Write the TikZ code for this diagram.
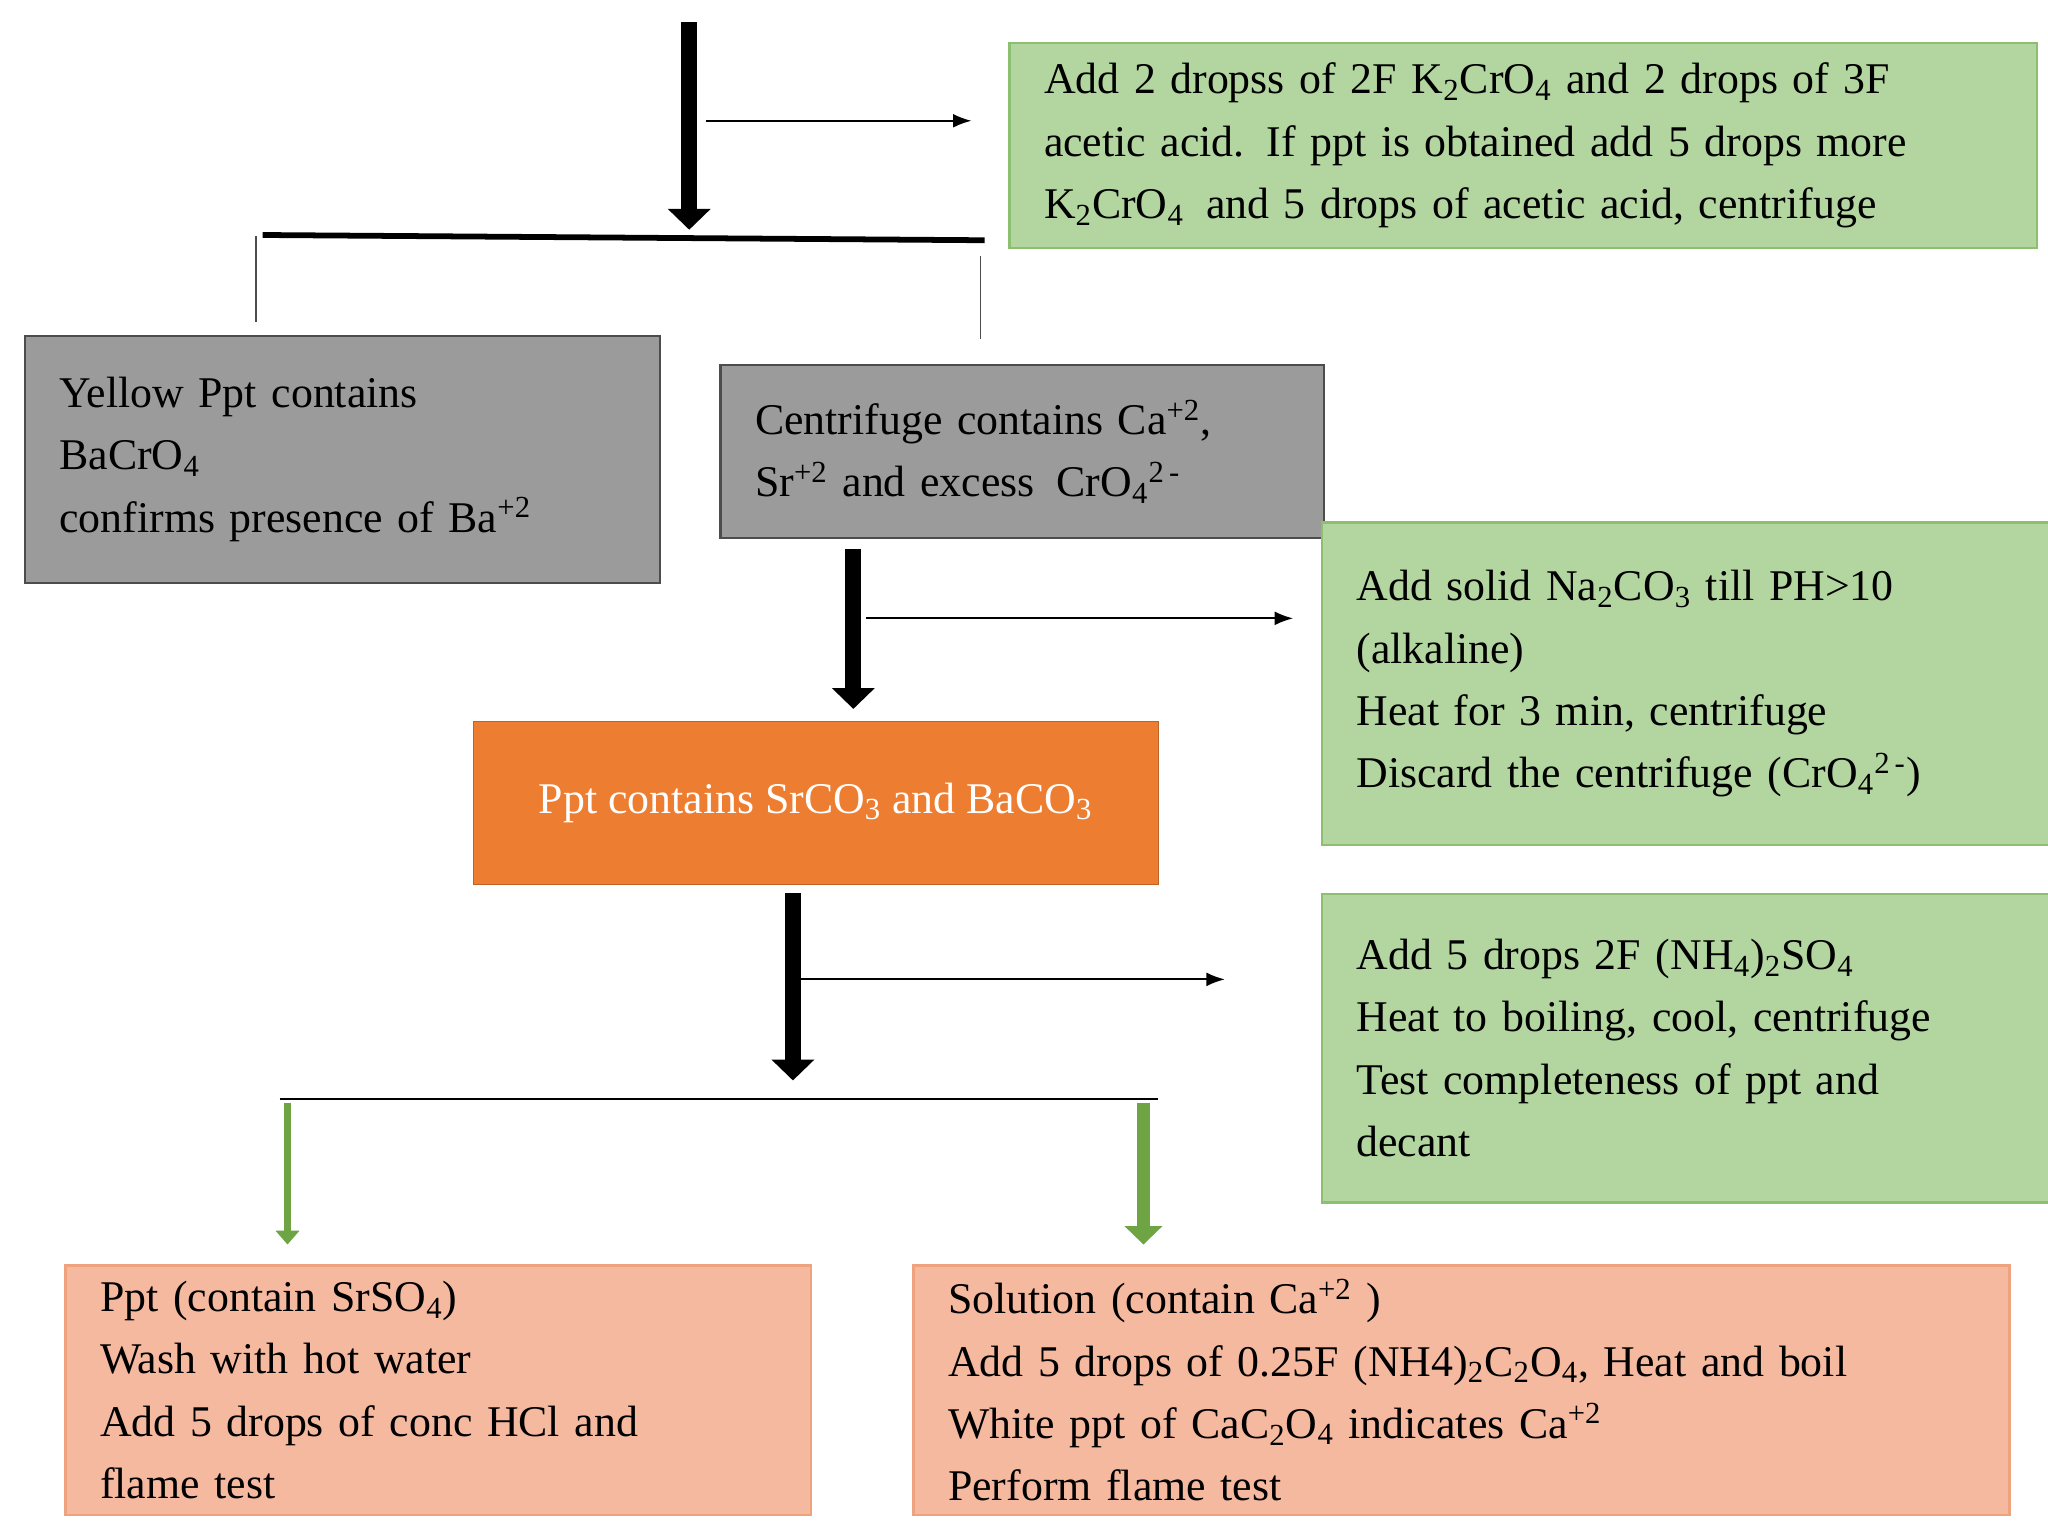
\documentclass[tikz,border=0pt]{standalone}
\usepackage{fontspec}
\setmainfont{Liberation Serif}
\usetikzlibrary{arrows.meta}
\definecolor{boxgreen}{HTML}{B3D5A0}
\definecolor{edgegreen}{HTML}{8CC070}
\definecolor{boxgray}{HTML}{9B9B9B}
\definecolor{boxorange}{HTML}{ED7D31}
\definecolor{boxsalmon}{HTML}{F5B9A0}
\definecolor{edgesalmon}{HTML}{EFA27E}
\definecolor{arrowgreen}{HTML}{6FA444}
\tikzset{
  box/.style={draw, rectangle, anchor=north west, align=left, inner xsep=15pt, inner ysep=4pt,
    font=\fontsize{19}{27}\selectfont},
  gbox/.style={box, fill=boxgreen, draw=edgegreen, line width=1pt},
  ybox/.style={box, fill=boxgray, draw=black!70, line width=1pt},
  sbox/.style={box, fill=boxsalmon, draw=edgesalmon, line width=1pt},
  bigarrow/.style={line width=7pt, -{Triangle[width=18pt,length=9pt]}},
  thinarrow/.style={line width=0.8pt, -{Latex[length=8pt,width=6pt]}},
}
\begin{document}
\begin{tikzpicture}[x=0.02cm,y=-0.02cm]
\useasboundingbox (0,0) rectangle (1560,1170);
% boxes
\node[gbox, minimum width=780\pgflinewidth, text width=730*0.02cm, minimum width=780*0.02cm, minimum height=156*0.02cm] (add1) at (768,32)
  {Add 2 dropss of 2F K\textsubscript{2}CrO\textsubscript{4} and 2 drops of 3F\\acetic acid. If ppt is obtained add 5 drops more\\ K\textsubscript{2}CrO\textsubscript{4}\, and 5 drops of acetic acid, centrifuge};
\node[ybox, text width=431*0.02cm, minimum width=461*0.02cm, minimum height=188*0.02cm] (yellow) at (18,255)
  {Yellow Ppt contains\\BaCrO\textsubscript{4}\\confirms presence of Ba\textsuperscript{+2}};
\node[ybox, text width=407*0.02cm, minimum width=437*0.02cm, minimum height=132*0.02cm] (cent) at (548,277)
  {Centrifuge contains Ca\textsuperscript{+2},\\Sr\textsuperscript{+2} and excess\, CrO\textsubscript{4}\textsuperscript{2\,-}};
\node[gbox, text width=512*0.02cm, minimum width=542*0.02cm, minimum height=246*0.02cm] (add2) at (1006,397)
  {Add solid Na\textsubscript{2}CO\textsubscript{3} till PH>10\\(alkaline)\\Heat for 3 min, centrifuge\\Discard the centrifuge (CrO\textsubscript{4}\textsuperscript{2\,-})};
\node[box, fill=boxorange, draw=boxorange!80!black, text=white, align=center, minimum width=522*0.02cm, minimum height=124*0.02cm] (ppt) at (360,549)
  {Ppt contains SrCO\textsubscript{3} and BaCO\textsubscript{3}};
\node[gbox, text width=512*0.02cm, minimum width=542*0.02cm, minimum height=235*0.02cm] (add3) at (1006,680)
  {Add 5 drops 2F (NH\textsubscript{4})\textsubscript{2}SO\textsubscript{4}\\Heat to boiling, cool, centrifuge\\Test completeness of ppt and\\decant};
\node[sbox, text width=515*0.02cm, minimum width=545*0.02cm, minimum height=190*0.02cm] (sr) at (49,963)
  {Ppt (contain SrSO\textsubscript{4})\\Wash with hot water\\Add 5 drops of conc HCl and\\flame test};
\node[sbox, text width=782*0.02cm, minimum width=812*0.02cm, minimum height=190*0.02cm] (ca) at (695,963)
  {Solution (contain Ca\textsuperscript{+2} )\\Add 5 drops of 0.25F (NH4)\textsubscript{2}C\textsubscript{2}O\textsubscript{4}, Heat and boil\\White ppt of CaC\textsubscript{2}O\textsubscript{4} indicates Ca\textsuperscript{+2}\\Perform flame test};
% connector points
\coordinate (top) at (525,17);
\coordinate (split1) at (525,175);
\coordinate (s1a) at (538,92);
\coordinate (s1b) at (740,92);
\coordinate (b1l) at (200,179);
\coordinate (b1r) at (750,183);
\coordinate (c1) at (650,418);
\coordinate (c2) at (650,540);
\coordinate (s2a) at (660,471);
\coordinate (s2b) at (985,471);
\coordinate (p1) at (604,680);
\coordinate (p2) at (604,823);
\coordinate (s3a) at (610,746);
\coordinate (s3b) at (933,746);
\coordinate (b2l) at (213,837);
\coordinate (b2r) at (882,837);
% arrows
\draw[bigarrow] (top) -- (split1);
\draw[thinarrow] (s1a) -- (s1b);
\draw[line width=2.5pt] (b1l) -- (b1r);
\draw[line width=0.5pt, black!70] (195,180) -- (195,245);
\draw[line width=0.5pt, black!70] (747,195) -- (747,258);
\draw[bigarrow] (c1) -- (c2);
\draw[thinarrow] (s2a) -- (s2b);
\draw[bigarrow] (p1) -- (p2);
\draw[thinarrow] (s3a) -- (s3b);
\draw[line width=1pt] (b2l) -- (b2r);
\draw[arrowgreen, line width=3pt, -{Triangle[width=10pt,length=6pt]}] (219,840) -- (219,948);
\draw[arrowgreen, line width=6pt, -{Triangle[width=16pt,length=8pt]}] (871,840) -- (871,948);
\end{tikzpicture}
\end{document}
